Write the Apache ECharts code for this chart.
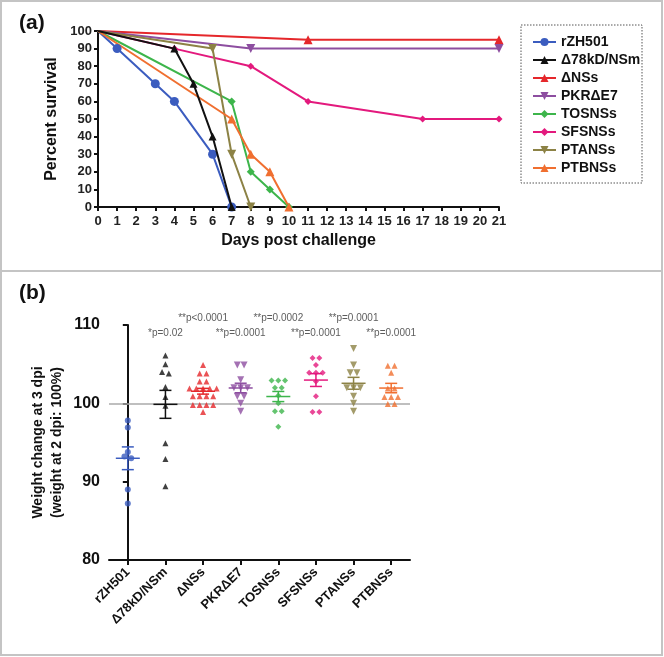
<!DOCTYPE html>
<html><head><meta charset="utf-8">
<script src="https://cdn.jsdelivr.net/npm/echarts@6/dist/echarts.min.js"></script>
<style>html,body{margin:0;padding:0;background:#fff}#c{width:664px;height:657px}</style>
</head><body><div id="c"></div>
<script>
// ---------- DATA ----------
const strains = ['rZH501', 'Δ78kD/NSm', 'ΔNSs', 'PKRΔE7', 'TOSNSs', 'SFSNSs', 'PTANSs', 'PTBNSs'];

// Panel (a): survival curves, [day, percent survival]
const survRZH501 = [[0,100],[1,90],[3,70],[4,60],[6,30],[7,0]];
const survD78 = [[0,100],[4,90],[5,70],[6,40],[7,0]];
const survDNSs = [[0,100],[11,95],[21,95]];
const survPKR = [[0,100],[8,90],[21,90]];
const survTOS = [[0,100],[7,60],[8,20],[9,10],[10,0]];
const survSFS = [[0,100],[4,90],[8,80],[11,60],[17,50],[21,50]];
const survPTA = [[0,100],[6,90],[7,30],[8,0]];
const survPTB = [[0,100],[7,50],[8,30],[9,20],[10,0]];

// Panel (b): weight change at 3 dpi (%)
const wRZH501 = [97.8, 96.9, 93.8, 93.2, 93.0, 89.0, 87.2];
const wD78 = [106.1, 105.0, 104.0, 103.8, 102.1, 100.8, 99.7, 94.9, 92.9, 89.4];
const wDNSs = [104.9, 103.8, 103.8, 102.8, 102.8, 101.9, 101.9, 101.9, 101.9, 101.9, 100.9, 100.9, 100.9, 100.9, 99.8, 99.8, 99.8, 99.8, 98.9];
const wPKR = [104.9, 104.9, 103.0, 102.0, 102.0, 102.0, 100.9, 100.9, 100.0, 99.0];
const wTOS = [102.9, 102.9, 102.9, 102.0, 102.0, 101.0, 100.0, 99.0, 99.0, 97.0];
const wSFS = [105.8, 105.8, 104.9, 103.9, 103.9, 103.9, 102.8, 100.9, 98.9, 98.9];
const wPTA = [107.0, 104.9, 103.9, 103.9, 102.0, 102.0, 102.0, 100.9, 100.0, 99.0];
const wPTB = [104.8, 104.8, 103.9, 101.9, 101.9, 100.8, 100.8, 100.8, 99.9, 99.9];

const pTexts = ['', '*p=0.02', '**p<0.0001', '**p=0.0001', '**p=0.0002', '**p=0.0001', '**p=0.0001', '**p=0.0001'];
const pLevels = [null, 109.0, 110.8, 109.0, 110.8, 109.0, 110.8, 109.0];

const survTicksX = { min: 0, max: 21, interval: 1 };
const survTicksY = { min: 0, max: 100, interval: 10 };
const weightTicksY = { min: 80, max: 110, interval: 10 };

// ---------- STYLE ----------
const FONT = '"Liberation Sans", Arial, sans-serif';
const colors = ['#3b5cbf', '#111111', '#e5272b', '#8d4ea0', '#3db54b', '#e3197d', '#8c8245', '#f06f30'];
const symA = ['circle', 'triangle', 'triangle', 'triangle', 'diamond', 'diamond', 'triangle', 'triangle'];
const rotA = [0, 0, 0, 180, 0, 0, 180, 0];
const sizeA = [9, 8, 9, 9, 8, 7, 9, 9];
const sizeB = [6, 6, 6, 7, 6, 6, 7, 6];
const survAll = [survRZH501, survD78, survDNSs, survPKR, survTOS, survSFS, survPTA, survPTB];
const weightAll = [wRZH501, wD78, wDNSs, wPKR, wTOS, wSFS, wPTA, wPTB];

// spread points of equal value sideways (dot-plot layout)
function spread(vals, idx, step) {
  const sorted = vals.slice().sort((a, b) => b - a);
  const rows = [];
  sorted.forEach(v => {
    const r = rows[rows.length - 1];
    if (r && Math.abs(r[0] - v) < 0.35) r.push(v); else rows.push([v]);
  });
  const out = [];
  rows.forEach(r => r.forEach((v, i) => out.push([idx + (i - (r.length - 1) / 2) * step, v])));
  return out;
}
function meanSem(vals) {
  const n = vals.length, m = vals.reduce((a, b) => a + b, 0) / n;
  const sd = Math.sqrt(vals.reduce((a, b) => a + (b - m) * (b - m), 0) / (n - 1));
  return [m, sd / Math.sqrt(n)];
}

const series = [];
strains.forEach((name, i) => {
  series.push({
    type: 'line', name, xAxisIndex: 0, yAxisIndex: 0,
    data: survAll[i].map((p, k) => k === 0 ? { value: p, symbolSize: 0 } : p),
    symbol: symA[i], symbolRotate: rotA[i], symbolSize: sizeA[i],
    showAllSymbol: true,
    lineStyle: { color: colors[i], width: 2 },
    itemStyle: { color: colors[i] },
    z: 10 - (i === 1 ? 0 : 1),
    animation: false
  });
});
strains.forEach((name, i) => {
  series.push({
    type: 'scatter', name: 'b_' + name, xAxisIndex: 2, yAxisIndex: 1,
    data: spread(weightAll[i], i, 0.18),
    symbol: symA[i], symbolRotate: rotA[i], symbolSize: sizeB[i],
    itemStyle: { color: colors[i] }, animation: false, z: 5
  });
});
series.push({
  type: 'custom', name: 'meansem', xAxisIndex: 2, yAxisIndex: 1,
  data: weightAll.map((v, i) => { const ms = meanSem(v); return [i, ms[0], ms[1]]; }),
  renderItem(params, api) {
    const x = api.value(0), m = api.value(1), s = api.value(2);
    const c = api.coord([x, m]), t = api.coord([x, m + s]), b = api.coord([x, m - s]);
    const st = { stroke: colors[params.dataIndex], lineWidth: 1.5, fill: null };
    return { type: 'group', children: [
      { type: 'line', shape: { x1: c[0] - 12, y1: c[1], x2: c[0] + 12, y2: c[1] }, style: st },
      { type: 'line', shape: { x1: c[0], y1: t[1], x2: c[0], y2: b[1] }, style: st },
      { type: 'line', shape: { x1: c[0] - 6, y1: t[1], x2: c[0] + 6, y2: t[1] }, style: st },
      { type: 'line', shape: { x1: c[0] - 6, y1: b[1], x2: c[0] + 6, y2: b[1] }, style: st }
    ] };
  },
  z: 6, animation: false
});
series.push({
  type: 'scatter', name: 'pvals', xAxisIndex: 2, yAxisIndex: 1, clip: false,
  data: pTexts.map((t, i) => pLevels[i] == null ? null : [i, pLevels[i], t]).filter(d => d),
  symbolSize: 0,
  label: { show: true, position: 'inside', formatter: p => p.value[2], fontFamily: FONT, fontSize: 10, color: '#333' },
  markLine: {
    silent: true, symbol: 'none', label: { show: false },
    lineStyle: { color: '#aaaaaa', width: 1.5, type: 'solid' },
    data: [{ yAxis: 100 }]
  },
  animation: false, z: 2
});

const chart = echarts.init(document.getElementById('c'), null, { renderer: 'canvas' });
const axLine = { show: true, lineStyle: { color: '#111', width: 2 } };
const axTick = { show: true, length: 4, lineStyle: { color: '#111', width: 2 } };
chart.setOption({
  backgroundColor: '#fff',
  animation: false,
  textStyle: { fontFamily: FONT },
  graphic: [
    { type: 'rect', shape: { x: 1, y: 1, width: 661, height: 654 }, style: { fill: null, stroke: '#c4c4c4', lineWidth: 2 }, silent: true },
    { type: 'line', shape: { x1: 1, y1: 271, x2: 662, y2: 271 }, style: { stroke: '#c4c4c4', lineWidth: 2 }, silent: true },
    { type: 'rect', shape: { x: 521, y: 25, width: 121, height: 158 }, style: { fill: null, stroke: '#555', lineWidth: 1, lineDash: [1.5, 1.5] }, silent: true },
    { type: 'text', left: 19, top: 13, style: { text: '(a)', font: 'bold 21px ' + FONT, fill: '#111' } },
    { type: 'text', left: 19, top: 283, style: { text: '(b)', font: 'bold 21px ' + FONT, fill: '#111' } }
  ],
  legend: {
    data: strains, orient: 'vertical', left: 527, top: 30,
    itemWidth: 23, itemHeight: 10, itemGap: 4,
    textStyle: { fontFamily: FONT, fontWeight: 'bold', fontSize: 14, color: '#111' },
    selectedMode: false
  },
  grid: [
    { left: 98, top: 31, width: 401, height: 176 },
    { left: 109, top: 325, width: 301, height: 235 }
  ],
  xAxis: [
    { gridIndex: 0, type: 'value', min: survTicksX.min, max: survTicksX.max, interval: survTicksX.interval,
      axisLine: axLine, axisTick: axTick, splitLine: { show: false },
      axisLabel: { fontFamily: FONT, fontWeight: 'bold', fontSize: 13, color: '#222', margin: 8 },
      name: 'Days post challenge', nameLocation: 'middle', nameGap: 26,
      nameTextStyle: { fontFamily: FONT, fontWeight: 'bold', fontSize: 16, color: '#111' } },
    { gridIndex: 1, type: 'category', data: strains, boundaryGap: true,
      axisLine: axLine, axisTick: { show: true, alignWithLabel: true, length: 5, lineStyle: { color: '#111', width: 2 } },
      axisLabel: { rotate: 45, interval: 0, fontFamily: FONT, fontWeight: 'bold', fontSize: 13, color: '#111', margin: 10 } },
    { gridIndex: 1, type: 'value', min: -0.5, max: 7.5, show: false }
  ],
  yAxis: [
    { gridIndex: 0, type: 'value', min: survTicksY.min, max: survTicksY.max, interval: survTicksY.interval,
      axisLine: axLine, axisTick: axTick, splitLine: { show: false },
      axisLabel: { fontFamily: FONT, fontWeight: 'bold', fontSize: 13, color: '#222', margin: 6 },
      name: 'Percent survival', nameLocation: 'middle', nameGap: 33,
      nameTextStyle: { fontFamily: FONT, fontWeight: 'bold', fontSize: 16, color: '#111' } },
    { gridIndex: 1, type: 'value', min: weightTicksY.min, max: weightTicksY.max, interval: weightTicksY.interval,
      axisLine: axLine, axisTick: { show: true, length: 5, lineStyle: { color: '#111', width: 2 } }, splitLine: { show: false },
      axisLabel: { fontFamily: FONT, fontWeight: 'bold', fontSize: 16, color: '#111', margin: 9 },
      name: 'Weight change at 3 dpi\n(weight at 2 dpi: 100%)', nameLocation: 'middle', nameGap: 42,
      nameTextStyle: { fontFamily: FONT, fontWeight: 'bold', fontSize: 14, color: '#111', lineHeight: 19 } }
  ],
  series
});
</script>
</body></html>
